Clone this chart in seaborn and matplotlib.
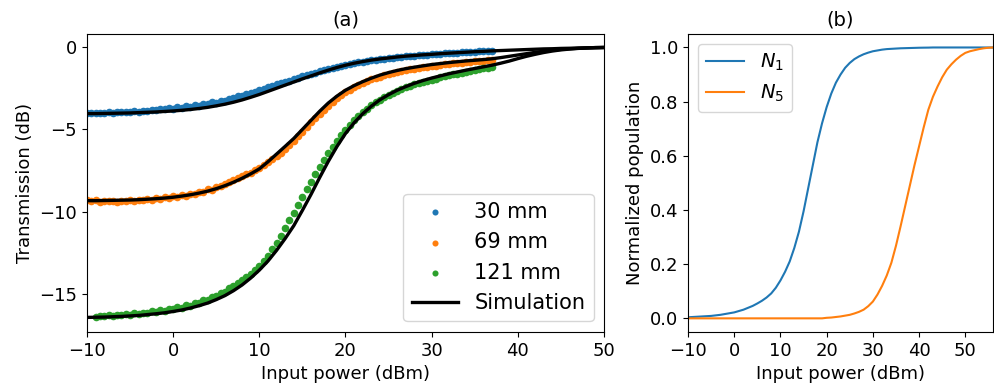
import numpy as np
import pandas as pd
import matplotlib
matplotlib.use("Agg")
import matplotlib.pyplot as plt
import seaborn as sns

# measured data (input power grid, 0.5 dB steps)
x_meas = np.arange(-10, 37.5, 0.5)
x_meas_121 = np.arange(-9, 37.5, 0.5)

meas_30 = [-4.02, -3.98, -4.03, -3.99, -4.01, -3.96, -3.99, -3.95, -3.97, -3.93,
           -3.95, -3.90, -3.92, -3.86, -3.89, -3.82, -3.85, -3.76, -3.79, -3.70,
           -3.74, -3.66, -3.68, -3.60, -3.63, -3.52, -3.56, -3.45, -3.48, -3.36,
           -3.40, -3.25, -3.30, -3.14, -3.10, -3.00, -2.95, -2.86, -2.78, -2.72,
           -2.62, -2.55, -2.44, -2.38, -2.27, -2.20, -2.10, -2.03, -1.93, -1.86,
           -1.78, -1.70, -1.62, -1.55, -1.47, -1.40, -1.33, -1.27, -1.20, -1.14,
           -1.08, -1.03, -0.98, -0.93, -0.88, -0.85, -0.80, -0.77, -0.73, -0.70,
           -0.67, -0.64, -0.61, -0.59, -0.56, -0.54, -0.52, -0.50, -0.48, -0.46,
           -0.44, -0.42, -0.40, -0.38, -0.37, -0.35, -0.33, -0.32, -0.30, -0.29,
           -0.27, -0.26, -0.24, -0.23, -0.21]

meas_69 = [-9.30, -9.36, -9.31, -9.38, -9.33, -9.37, -9.32, -9.38, -9.34, -9.36,
           -9.30, -9.35, -9.28, -9.31, -9.24, -9.27, -9.18, -9.22, -9.13, -9.16,
           -9.07, -9.10, -8.99, -9.02, -8.90, -8.92, -8.78, -8.80, -8.64, -8.66,
           -8.50, -8.46, -8.30, -8.22, -8.10, -7.98, -7.86, -7.72, -7.62, -7.46,
           -7.32, -7.16, -6.98, -6.82, -6.62, -6.42, -6.18, -5.95, -5.70, -5.42,
           -5.15, -4.88, -4.58, -4.33, -4.06, -3.80, -3.55, -3.33, -3.10, -2.92,
           -2.74, -2.58, -2.43, -2.30, -2.18, -2.06, -1.96, -1.87, -1.79, -1.71,
           -1.64, -1.57, -1.51, -1.46, -1.41, -1.36, -1.31, -1.27, -1.23, -1.19,
           -1.15, -1.12, -1.08, -1.05, -1.02, -0.99, -0.96, -0.94, -0.91, -0.88,
           -0.86, -0.84, -0.82, -0.80, -0.78]

meas_121 = [-16.38, -16.33, -16.36, -16.30, -16.32, -16.26, -16.28, -16.22, -16.25, -16.18,
            -16.20, -16.13, -16.15, -16.06, -16.09, -15.98, -16.02, -15.90, -15.93, -15.80,
            -15.82, -15.68, -15.70, -15.55, -15.54, -15.38, -15.35, -15.18, -15.12, -14.95,
            -14.85, -14.66, -14.52, -14.32, -14.12, -13.95, -13.78, -13.55, -13.32, -13.02,
            -12.68, -12.28, -11.88, -11.45, -10.98, -10.52, -10.06, -9.60, -9.12, -8.65,
            -8.18, -7.72, -7.28, -6.85, -6.44, -6.05, -5.68, -5.34, -5.02, -4.72,
            -4.44, -4.18, -3.95, -3.74, -3.54, -3.36, -3.20, -3.05, -2.91, -2.78,
            -2.66, -2.55, -2.45, -2.36, -2.27, -2.19, -2.11, -2.04, -1.97, -1.91,
            -1.84, -1.78, -1.72, -1.66, -1.61, -1.55, -1.50, -1.45, -1.40, -1.35,
            -1.30, -1.25, -1.20]

# simulation (1 dB steps, -10 .. 50)
x_sim = np.arange(-10, 51, 1)
sim_30 = [-4.04, -4.04, -4.03, -4.02, -4.01, -4.00, -3.98, -3.96, -3.94, -3.91,
          -3.88, -3.84, -3.79, -3.73, -3.66, -3.57, -3.47, -3.35, -3.21, -3.05,
          -2.88, -2.69, -2.50, -2.31, -2.12, -1.93, -1.75, -1.57, -1.40, -1.24,
          -1.10, -0.98, -0.88, -0.79, -0.72, -0.66, -0.60, -0.55, -0.51, -0.47,
          -0.44, -0.40, -0.37, -0.34, -0.31, -0.28, -0.26, -0.23, -0.21, -0.19,
          -0.17, -0.15, -0.13, -0.11, -0.10, -0.08, -0.07, -0.06, -0.05, -0.04, -0.03]
sim_69 = [-9.33, -9.33, -9.32, -9.31, -9.30, -9.29, -9.27, -9.24, -9.21, -9.17,
          -9.12, -9.05, -8.97, -8.87, -8.75, -8.60, -8.42, -8.21, -7.97, -7.70,
          -7.40, -6.97, -6.50, -6.03, -5.55, -5.00, -4.45, -3.90, -3.40, -2.98,
          -2.62, -2.34, -2.10, -1.89, -1.70, -1.55, -1.42, -1.31, -1.22, -1.14,
          -1.06, -1.00, -0.94, -0.89, -0.84, -0.80, -0.76, -0.71, -0.64, -0.56,
          -0.48, -0.40, -0.32, -0.25, -0.19, -0.14, -0.10, -0.07, -0.05, -0.03, -0.02]
sim_121 = [-16.42, -16.41, -16.40, -16.38, -16.36, -16.33, -16.30, -16.25, -16.20, -16.14,
           -16.06, -15.97, -15.85, -15.71, -15.55, -15.34, -15.10, -14.80, -14.45, -14.03,
           -13.55, -13.00, -12.35, -11.63, -10.85, -9.92, -8.95, -7.93, -6.95, -6.05,
           -5.25, -4.60, -4.05, -3.59, -3.20, -2.89, -2.62, -2.40, -2.20, -2.03,
           -1.88, -1.75, -1.62, -1.51, -1.40, -1.30, -1.20, -1.10, -0.98, -0.85,
           -0.70, -0.56, -0.44, -0.33, -0.24, -0.17, -0.12, -0.08, -0.05, -0.03, -0.02]

# normalized populations (1 dB steps, -10 .. 56)
x_pop = np.arange(-10, 57, 1)
pop_n1 = [0.004, 0.005, 0.006, 0.007, 0.008, 0.009, 0.011, 0.013, 0.016, 0.019,
          0.022, 0.027, 0.032, 0.039, 0.046, 0.055, 0.065, 0.077, 0.092, 0.113,
          0.140, 0.172, 0.210, 0.260, 0.320, 0.395, 0.480, 0.565, 0.650, 0.720,
          0.780, 0.830, 0.870, 0.900, 0.925, 0.943, 0.957, 0.967, 0.975, 0.981,
          0.986, 0.989, 0.992, 0.994, 0.995, 0.996, 0.997, 0.9975, 0.998, 0.9985,
          0.999, 0.9993, 0.9995, 1.0, 1.0, 1.0, 1.0, 1.0, 1.0, 1.0,
          1.0, 1.0, 1.0, 1.0, 1.0, 1.0, 1.0]
pop_n5 = [0.0, 0.0, 0.0, 0.0, 0.0, 0.0, 0.0, 0.0, 0.0, 0.0,
          0.0, 0.0, 0.0, 0.0, 0.0, 0.0, 0.0, 0.0, 0.0, 0.0,
          0.0, 0.0, 0.0, 0.0, 0.0, 0.0, 0.0, 0.0, 0.0, 0.0,
          0.002, 0.003, 0.005, 0.007, 0.010, 0.013, 0.018, 0.024, 0.032, 0.045,
          0.062, 0.088, 0.120, 0.158, 0.205, 0.268, 0.340, 0.415, 0.490, 0.565,
          0.635, 0.705, 0.770, 0.818, 0.856, 0.890, 0.918, 0.938, 0.955, 0.969,
          0.980, 0.986, 0.990, 0.994, 0.997, 0.999, 1.0]

blue, orange, green = "#1f77b4", "#ff7f0e", "#2ca02c"

fig = plt.figure(figsize=(9.95, 3.9), dpi=100)
ax1 = fig.add_axes([0.0874, 0.149, 0.5196, 0.764])
ax2 = fig.add_axes([0.6915, 0.149, 0.3065, 0.764])

for xs, ys, c, lab in [(x_meas, meas_30, blue, "30 mm"),
                       (x_meas, meas_69, orange, "69 mm"),
                       (x_meas_121, meas_121, green, "121 mm")]:
    sns.scatterplot(x=xs, y=ys, color=c, s=30, linewidth=0, label=lab, ax=ax1)

sns.lineplot(x=x_sim, y=sim_30, color="black", lw=2.4, label="Simulation", ax=ax1)
sns.lineplot(x=x_sim, y=sim_69, color="black", lw=2.4, ax=ax1)
sns.lineplot(x=x_sim, y=sim_121, color="black", lw=2.4, ax=ax1)

ax1.set_xlim(-10, 50)
ax1.set_ylim(-17.3, 0.8)
ax1.set_xticks([-10, 0, 10, 20, 30, 40, 50])
ax1.set_yticks([0, -5, -10, -15])
ax1.set_xlabel("Input power (dBm)", fontsize=13)
ax1.set_ylabel("Transmission (dB)", fontsize=13)
ax1.set_title("(a)", fontsize=14)
ax1.tick_params(labelsize=13)
ax1.legend(loc="lower right", fontsize=15, handlelength=2.2, markerscale=0.8)

sns.lineplot(x=x_pop, y=pop_n1, color=blue, lw=1.5, label="$N_1$", ax=ax2)
sns.lineplot(x=x_pop, y=pop_n5, color=orange, lw=1.5, label="$N_5$", ax=ax2)
ax2.set_xlim(-10, 56)
ax2.set_ylim(-0.05, 1.05)
ax2.set_xticks([-10, 0, 10, 20, 30, 40, 50])
ax2.set_xlabel("Input power (dBm)", fontsize=13)
ax2.set_ylabel("Normalized population", fontsize=13)
ax2.set_title("(b)", fontsize=14)
ax2.tick_params(labelsize=13)
ax2.legend(loc="upper left", fontsize=14)

fig.savefig("out.png", dpi=100)
